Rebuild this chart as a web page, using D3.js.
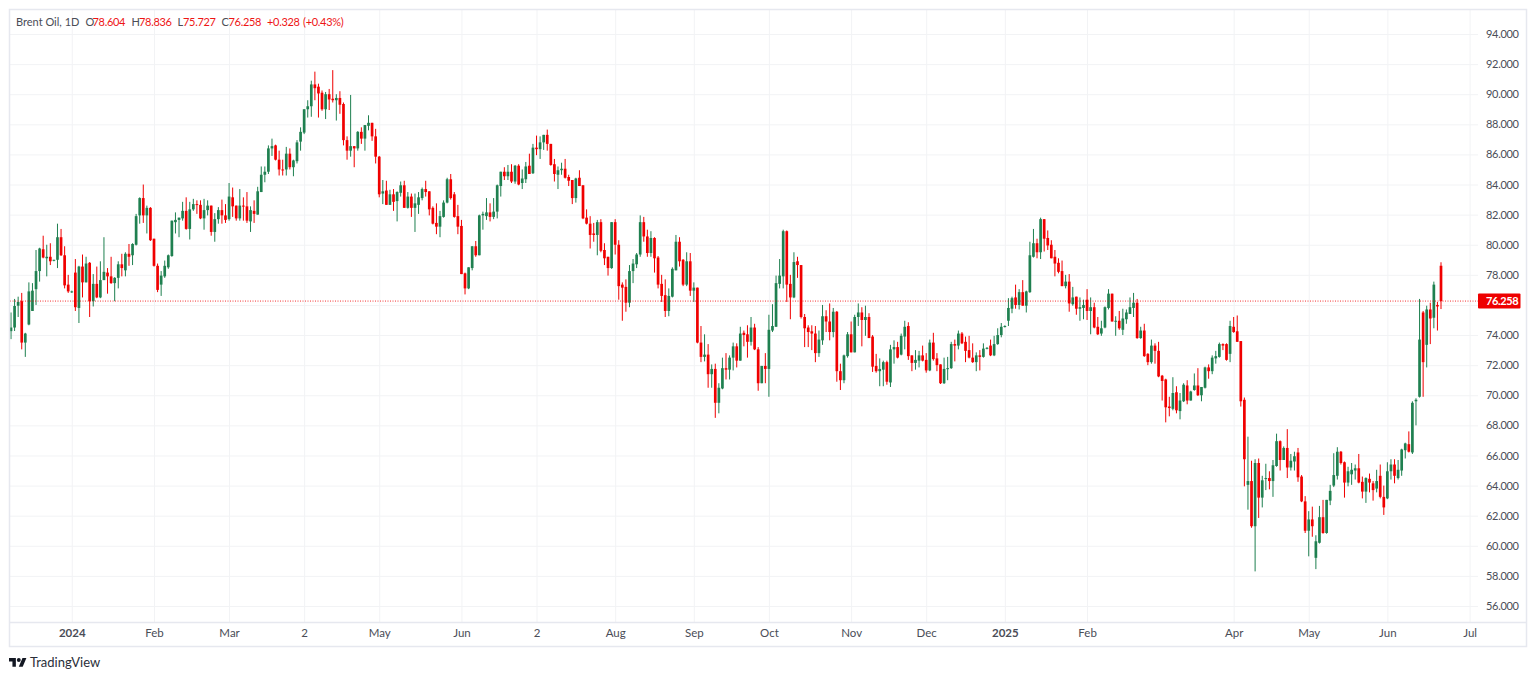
<!DOCTYPE html>
<html>
<head>
<meta charset="utf-8">
<title>Brent Oil, 1D</title>
<script src="https://cdn.jsdelivr.net/npm/d3@7/dist/d3.min.js"></script>
<style>
  html, body { margin: 0; padding: 0; background: #fff; overflow: hidden; }
  svg { display: block; }
  text { font-family: Lato, "Noto Sans", sans-serif; }
</style>
</head>
<body>
<svg id="chart" width="1536" height="679"></svg>
<script>
// one row = ten sessions
const opens = [
  74.26,74.5,75.95,76.25,73.5,74.7,75.6,77.05,78.25,79.7,
  79.1,79.2,78.95,79,80.5,79.3,77.35,76.85,78.15,75.8,
  78.55,77.5,78.8,76.25,77.4,76.5,77.65,78.15,77.9,77.45,
  77.8,78.7,78.3,79.4,79.3,80.0,81.95,83.1,81.95,82.45,
  80.4,78.6,77.35,77.9,78.5,79.25,81.5,81.65,81.75,82.25,
  81.05,82.35,82.7,82.65,81.75,82.3,82.6,80.85,81.7,82.3,
  81.95,81.7,83.15,82.6,81.75,82.6,82.55,81.55,82.25,82.0,
  83.5,84.65,84.85,86.4,86.6,85.65,85.0,85.0,86.05,85.15,
  85.55,86.85,87.45,89.0,89.2,90.65,90.5,90.1,89.0,90.0,
  89.7,89.6,89.75,89.35,86.95,86.25,86.55,86.4,87.5,87.05,
  87.9,88.1,87.2,85.85,83.4,83.6,82.65,83.35,82.9,83.45,
  83.95,82.45,83.2,82.45,82.65,83.1,83.7,83.55,82.45,81.45,
  81.2,81.85,82.8,84.35,83.35,81.9,81.25,78.1,77.1,78.45,
  79.9,79.3,81.95,81.9,82.15,81.85,82.2,83.9,84.85,84.55,
  84.85,84.2,85.25,84.1,84.35,85.25,84.75,86.45,86.35,86.8,
  87.3,86.7,85.35,84.65,84.95,85.05,84.5,84.3,83.1,84.45,
  83.95,81.8,81.4,80.75,80.65,81.5,79.65,79.2,78.45,81.5,
  80.0,77.35,77.2,76.15,78.25,78.7,79.35,81.5,80.55,79.45,
  80.45,79.15,77.4,76.65,75.6,76.55,78.3,80.2,79.0,77.35,
  78.9,76.95,77.15,73.5,72.55,72.7,71.4,71.75,69.5,70.45,
  71.8,71.7,72.5,73.25,72.3,74.15,74.05,73.55,74.5,73.05,
  70.8,71.95,71.75,74.3,74.55,77.4,77.9,80.9,77.4,76.5,
  78.9,78.65,75.2,74.5,74.25,74.1,72.8,73.65,75.25,74.9,
  74.2,75.55,71.6,71.0,72.6,74.05,72.85,75.2,75.5,75.0,
  75.2,73.9,71.95,71.6,71.7,72.2,70.85,73.05,73.2,72.7,
  73.9,74.6,72.65,72.15,72.3,72.65,72.35,71.65,73.5,72.45,
  72.05,70.8,71.75,71.8,73.4,73.3,74.1,73.55,73.0,72.5,
  72.2,72.65,72.55,73.1,73.3,72.65,73.4,74.0,74.55,74.95,
  75.75,76.5,76.0,76.85,75.95,76.85,79.2,80.1,79.5,81.7,
  80.45,80.0,79.2,78.8,78.25,77.25,77.55,76.05,76.55,75.75,
  75.8,76.35,75.6,75.85,74.55,74.1,74.5,75.8,76.75,74.9,
  74.95,74.35,75.05,75.4,75.8,76.15,73.8,74.3,72.75,72.2,
  73.3,72.95,71.3,71.05,69.25,69.1,70.2,68.95,69.6,70.65,
  69.65,70.35,70.65,70.0,70.5,71.85,71.6,72.45,72.55,73.4,
  73.4,72.75,74.55,74.25,73.6,69.7,64.05,64.3,61.3,65.5,
  63.2,64.45,64.5,64.3,65.3,66.95,65.7,66.5,65.2,65.6,
  66.2,64.6,62.95,61.0,61.75,59.2,60.2,61.9,60.85,63.0,
  64.0,64.65,66.25,65.55,64.2,64.75,65.0,65.15,64.25,63.6,
  64.45,64.15,63.8,64.65,63.25,63.15,64.95,65.4,64.5,65.0,
  66.35,66.75,66.2,69.6,69.9,75.5,73.35,75.7,75.15,76.0,
  78.604
];
const highs = [
  75.5,76.4,76.55,76.8,74.15,77.5,77.45,79.65,79.8,80.6,
  80.0,80.1,79.0,81.4,81.05,79.9,78.0,76.95,79.05,78.6,
  79.35,79.2,78.85,78.05,78.55,78.9,80.5,78.45,79.2,77.85,
  78.9,79.4,79.5,80.05,80.1,82.05,83.15,84.0,82.6,82.5,
  80.4,78.75,78.25,78.95,79.35,81.6,82.15,81.8,82.85,83.15,
  82.85,83.05,82.95,82.95,83.05,82.95,82.6,82.1,82.5,83.0,
  82.7,84.1,83.8,82.6,83.7,83.15,83.5,82.55,82.95,83.85,
  85.2,85.2,86.6,87.05,86.65,86.25,85.65,86.5,86.4,85.65,
  86.95,87.8,89.0,89.6,90.9,91.5,90.7,90.25,90.15,90.35,
  91.6,90.0,90.2,89.45,87.2,89.95,86.55,87.55,87.8,87.95,
  88.6,88.1,87.7,85.9,84.3,84.25,83.65,83.7,83.55,84.2,
  84.25,83.5,83.4,83.4,83.5,83.8,84.25,83.55,82.55,82.75,
  82.25,82.95,84.45,84.7,83.5,82.65,81.65,78.15,78.5,79.9,
  80.25,82.0,82.2,83.1,82.75,83.1,84.0,84.85,85.15,85.3,
  85.35,85.3,85.35,85.0,85.5,86.05,86.7,87.25,87.2,87.3,
  87.65,86.7,85.7,85.2,85.45,85.7,84.65,84.3,84.45,84.95,
  83.95,82.35,81.9,81.45,81.65,81.7,80.1,79.2,81.5,81.7,
  80.3,77.5,77.7,78.65,79.05,79.45,81.95,81.85,81.0,80.9,
  80.5,79.25,78.0,77.7,77.1,78.5,80.65,80.5,79.05,79.5,
  79.45,77.5,77.15,74.6,74.05,73.4,72.05,72.1,70.8,72.5,
  72.8,72.65,73.5,73.45,74.55,74.3,74.65,75.2,74.75,73.2,
  71.95,72.8,75.35,76.05,77.95,79.05,81.0,80.95,78.0,79.5,
  79.2,78.65,75.4,74.65,74.65,74.6,74.3,76.0,75.65,76.1,
  75.8,75.6,72.1,72.7,74.2,74.9,75.35,76.1,75.85,75.95,
  75.45,74.0,72.75,72.45,72.3,72.3,73.35,73.65,73.55,74.1,
  74.95,74.85,72.65,73.0,72.95,73.3,72.8,73.7,74.15,72.8,
  72.05,72.5,72.55,73.55,73.7,74.3,74.2,73.9,73.95,73.45,
  72.85,73.0,73.45,73.2,73.7,73.95,74.45,74.8,74.65,76.45,
  76.55,77.35,77.05,77.65,76.95,80.2,81.05,80.4,81.8,81.7,
  80.95,80.3,79.65,79.1,78.95,78.0,78.05,77.2,76.55,76.5,
  76.35,77.05,76.5,76.15,75.2,74.95,75.9,77.05,76.75,75.25,
  75.6,75.75,75.7,76.5,76.8,76.4,74.55,74.75,72.8,73.7,
  73.45,73.55,71.35,71.1,69.9,71.2,70.6,70.15,70.8,71.0,
  70.3,71.45,71.8,70.55,71.9,72.05,72.65,72.95,73.5,73.45,
  73.45,74.95,75.2,75.3,73.6,69.85,67.25,65.65,65.75,65.8,
  64.65,65.45,64.95,65.7,67.45,67.0,66.6,67.75,66.1,66.25,
  66.5,64.7,63.3,62.3,62.6,60.7,62.65,63.05,63.05,64.05,
  66.15,66.55,66.3,65.6,65.25,65.5,65.4,66.1,64.6,64.55,
  64.8,64.3,65.05,65.4,64.0,65.55,65.75,65.75,65.7,66.45,
  66.85,67.6,69.6,69.8,76.4,75.6,75.95,76.15,77.55,76.2,
  78.836
];
const lows = [
  73.73,74.27,75.2,73.05,72.55,74.65,75.6,76.0,77.55,79.1,
  77.9,78.65,78.9,78.45,79.25,77.1,76.8,76.8,75.6,74.8,
  76.5,77.5,75.2,75.9,76.45,76.45,77.65,76.75,77.4,76.25,
  77.1,77.9,77.9,78.6,78.65,79.95,81.4,81.45,80.75,80.25,
  78.55,76.85,76.6,77.8,78.4,79.2,80.75,80.5,81.6,81.0,
  80.35,82.25,82.05,81.7,81.0,81.95,80.6,80.2,81.4,81.4,
  81.45,81.6,81.85,81.6,81.6,81.6,81.45,80.85,81.45,82.0,
  83.5,84.15,84.7,85.9,85.6,84.6,84.6,84.6,85.0,84.55,
  85.4,86.25,87.35,88.45,88.5,89.6,88.45,88.9,88.35,88.95,
  89.45,88.25,88.7,86.6,85.65,85.85,85.15,86.25,86.7,86.25,
  87.6,86.9,85.4,83.15,82.7,82.65,82.65,82.25,81.55,83.2,
  82.45,82.4,81.85,80.85,82.05,82.95,83.2,81.95,81.35,80.7,
  80.5,81.8,82.75,83.0,81.8,80.7,78.05,76.7,77.05,78.3,
  79.2,79.3,81.0,81.65,81.55,81.7,81.75,83.2,84.3,84.3,
  84.1,84.05,83.95,83.7,84.1,84.7,84.7,85.95,85.7,86.3,
  86.25,85.25,84.2,83.7,84.65,84.4,83.9,82.7,82.8,83.9,
  81.7,81.35,79.75,80.2,79.3,79.5,78.65,77.95,78.4,79.35,
  76.35,74.95,75.55,75.85,77.45,78.45,79.2,80.2,79.2,79.2,
  78.15,77.1,76.2,75.2,75.25,76.5,78.3,78.55,77.25,77.25,
  76.6,76.2,73.45,72.2,72.25,70.5,70.5,68.5,68.8,70.4,
  71.05,71.05,71.65,71.85,72.3,73.25,72.5,73.3,73.0,70.3,
  70.8,70.8,69.9,74.2,74.55,77.1,77.1,76.2,75.05,76.45,
  77.8,75.1,73.2,73.2,73.0,72.2,72.55,73.35,74.2,73.65,
  73.85,70.9,70.35,70.8,72.5,72.85,72.85,74.6,73.25,73.95,
  73.8,71.55,71.5,70.6,70.6,70.7,70.55,72.1,72.45,72.65,
  73.05,72.35,71.6,71.7,71.85,72.25,71.5,71.6,72.3,71.6,
  70.75,70.75,71.0,71.75,72.25,73.05,73.4,72.2,72.45,72.15,
  71.6,71.65,72.5,73.05,72.6,72.6,73.35,73.85,74.5,74.6,
  75.45,75.75,75.7,75.95,75.5,76.8,79.15,79.1,79.05,79.55,
  79.65,79.1,77.9,78.1,77.25,77.1,75.55,75.95,75.35,74.95,
  75.05,75.0,74.05,74.45,74.0,73.95,74.45,75.7,74.9,73.95,
  74.35,74.0,74.75,75.4,75.2,73.75,73.75,72.55,72.0,72.1,
  72.1,71.2,69.65,68.2,68.6,69.0,68.8,68.4,69.55,69.4,
  69.65,70.3,69.95,69.6,70.45,71.1,71.4,72.1,72.5,73.0,
  72.3,72.2,74.15,73.55,69.25,63.95,62.4,61.2,58.3,61.85,
  62.55,63.7,63.75,63.25,65.25,65.0,65.7,64.5,65.0,65.0,
  64.25,62.9,60.85,59.3,60.6,58.45,60.15,60.8,60.8,62.7,
  63.9,64.4,65.4,63.2,63.95,64.05,64.4,64.15,63.15,62.85,
  63.55,63.0,63.55,63.15,62.05,63.1,64.4,64.15,64.4,64.65,
  65.8,66.2,66.1,68.0,69.85,69.9,71.85,73.4,74.45,74.3,
  75.727
];
const closes = [
  74.5,75.93,76.2,73.5,74.1,76.9,76.95,78.25,79.75,79.15,
  79.2,78.9,79.0,80.5,79.3,77.3,76.9,76.9,75.85,78.55,
  77.5,78.75,76.25,77.4,76.5,77.65,78.2,77.9,77.45,77.8,
  78.7,78.45,79.4,79.2,80.05,81.9,83.1,81.95,82.45,80.3,
  78.6,77.0,77.95,78.6,79.3,81.6,81.65,81.8,82.25,81.05,
  82.35,82.7,82.65,81.75,82.3,82.6,80.85,81.7,82.3,81.95,
  81.65,83.2,82.55,81.75,82.6,82.55,81.6,82.3,82.05,83.55,
  84.65,84.85,86.4,86.55,85.65,85.0,84.95,86.05,85.15,85.6,
  86.8,87.5,89.0,89.2,90.65,90.4,90.05,89.0,90.0,89.65,
  89.6,89.75,89.3,86.95,86.25,86.55,86.4,87.5,87.05,87.95,
  88.1,87.2,85.85,83.35,83.55,82.65,83.35,82.85,83.5,83.95,
  82.45,83.2,82.45,82.75,83.15,83.7,83.5,82.35,81.4,81.2,
  81.9,82.8,84.35,83.1,81.85,81.2,78.05,77.1,78.5,79.9,
  79.3,81.95,82.05,82.15,81.85,82.2,83.95,84.85,84.55,84.85,
  84.2,85.25,84.0,84.4,85.2,84.7,86.45,86.35,86.8,87.3,
  86.7,85.3,84.7,84.95,85.05,84.45,84.25,83.1,84.4,83.9,
  81.75,81.4,80.65,80.65,81.5,79.6,79.1,78.45,81.5,80.0,
  77.25,77.15,76.15,78.25,78.75,79.35,81.5,80.55,79.45,80.45,
  79.1,77.35,76.6,75.6,76.6,78.4,80.2,78.9,77.35,78.9,
  76.95,77.15,73.5,72.55,72.7,71.4,71.75,69.5,70.5,71.8,
  71.7,72.5,73.25,72.3,74.1,74.0,73.55,74.5,73.05,70.8,
  71.95,71.75,74.35,74.6,77.45,77.95,80.9,77.35,76.5,78.85,
  78.65,75.2,74.45,74.2,74.1,72.8,73.7,75.25,74.9,74.2,
  75.55,71.6,71.0,72.65,74.05,72.85,75.2,75.5,75.0,75.2,
  73.8,71.9,71.6,71.75,72.2,70.9,73.05,73.2,72.5,73.95,
  74.55,72.6,72.15,72.35,72.65,72.3,71.65,73.5,72.4,72.0,
  70.8,71.75,71.8,73.4,73.3,74.1,73.45,72.95,72.5,72.2,
  72.65,72.55,73.1,73.15,72.65,73.4,74.0,74.55,74.6,75.8,
  76.45,76.0,76.85,75.95,76.9,79.3,80.1,79.5,81.7,80.4,
  79.95,79.1,78.75,78.2,77.25,77.55,76.1,76.5,75.75,75.85,
  76.0,75.6,75.85,74.5,74.05,74.45,75.85,76.75,74.9,74.95,
  74.45,75.1,75.5,75.85,76.15,73.8,74.3,72.6,72.2,73.3,
  72.95,71.25,70.95,69.2,69.15,70.15,69.0,69.65,70.7,69.65,
  70.25,70.65,70.0,70.55,71.85,71.6,72.5,72.6,73.4,73.3,
  72.35,74.6,74.2,73.55,69.6,65.75,64.3,61.3,65.5,63.2,
  64.35,64.5,64.3,65.35,66.95,65.7,66.5,65.2,65.65,65.95,
  64.55,62.95,61.0,61.75,61.3,60.3,61.9,60.85,63.05,63.65,
  64.7,66.25,65.5,64.2,64.95,65.05,65.15,64.2,63.6,64.5,
  64.2,63.7,64.3,63.25,62.55,64.95,65.4,64.65,65.05,66.4,
  66.8,66.25,69.5,69.7,73.7,72.2,75.7,75.1,77.35,75.9,
  76.258
];

// session index of each month start, and the text the time axis shows there
const monthBars = [17, 40, 61, 82, 103, 126, 147, 169, 191, 212, 235, 256, 278, 301, 342, 363, 385, 408];
const monthLabels = ['2024', 'Feb', 'Mar', '2', 'May', 'Jun', '2', 'Aug', 'Sep', 'Oct', 'Nov', 'Dec', '2025', 'Feb', 'Apr', 'May', 'Jun', 'Jul'];
const priceTicks = d3.range(56, 95, 2);

const lastPrice = 76.258;
const legendTexts = ['Brent Oil, 1D', 'O', '78.604', 'H', '78.836', 'L', '75.727', 'C', '76.258', '+0.328', '(+0.43%)'];
const legendStarts = [16, 85.5, 92.5, 131.5, 139, 177.5, 183, 221.5, 228.5, 267, 303];
const legendIsValue = [false, false, true, false, true, false, true, false, true, true, true];

const red = '#f00000';
const green = '#1f8050';
const gridColor = '#f2f3f5';
const borderColor = '#e6e8ef';
const labelColor = '#4a4d57';

const paneRight = 1478;
const paneBottom = 622.5;

const svg = d3.select('#chart');

const x = d3.scaleLinear().domain([0, opens.length - 1]).range([11, 1441]);
const y = d3.scaleLinear().domain([56, 94]).range([606, 34]);

// grid, built from the two axes
const xGrid = svg.append('g')
  .attr('transform', 'translate(0,' + paneBottom + ')')
  .call(d3.axisBottom(x).tickValues(monthBars).tickSize(-(paneBottom - 10)).tickFormat(''));
xGrid.select('.domain').remove();
xGrid.selectAll('line').attr('stroke', gridColor);

const yGrid = svg.append('g')
  .attr('transform', 'translate(' + paneRight + ',0)')
  .call(d3.axisLeft(y).tickValues(priceTicks).tickSize(paneRight - 10).tickFormat(''));
yGrid.select('.domain').remove();
yGrid.selectAll('line').attr('stroke', gridColor);

// candles
const candles = svg.append('g').selectAll('g.candle')
  .data(opens)
  .enter().append('g')
  .attr('class', 'candle')
  .attr('fill', (d, i) => closes[i] >= d ? green : red);

candles.append('rect')
  .attr('x', (d, i) => x(i) - 0.5)
  .attr('width', 1)
  .attr('y', (d, i) => y(highs[i]))
  .attr('height', (d, i) => y(lows[i]) - y(highs[i]));

candles.append('rect')
  .attr('x', (d, i) => x(i) - 1.35)
  .attr('width', 2.7)
  .attr('y', (d, i) => y(Math.max(d, closes[i])))
  .attr('height', (d, i) => Math.max(1, Math.abs(y(d) - y(closes[i]))));

// last price line
svg.append('line')
  .attr('x1', 10).attr('x2', paneRight)
  .attr('y1', y(lastPrice)).attr('y2', y(lastPrice))
  .attr('stroke', '#f00000')
  .attr('stroke-opacity', 0.8)
  .attr('stroke-dasharray', '1 1.5');

// frame
svg.append('rect')
  .attr('x', 9.5).attr('y', 9.5)
  .attr('width', 1517).attr('height', 637)
  .attr('fill', 'none')
  .attr('stroke', borderColor)
  .attr('stroke-width', 1.5);
svg.append('line')
  .attr('x1', 10).attr('x2', 1527)
  .attr('y1', paneBottom).attr('y2', paneBottom)
  .attr('stroke', borderColor)
  .attr('stroke-width', 1.5);

// axes; the 76 label sits under the last price tag, so it is left out
const priceAxis = svg.append('g')
  .attr('transform', 'translate(' + paneRight + ',0)')
  .call(d3.axisRight(y).tickValues(priceTicks.filter(d => d !== 76)).tickSize(0).tickPadding(8).tickFormat(d3.format('.3f')));
priceAxis.select('.domain').remove();
priceAxis.selectAll('text')
  .attr('fill', labelColor)
  .style('font-size', '11px')
  .style('letter-spacing', '-0.3px');

const timeAxis = svg.append('g')
  .attr('transform', 'translate(0,' + paneBottom + ')')
  .call(d3.axisBottom(x).tickValues(monthBars).tickSize(0).tickPadding(6).tickFormat((d, i) => monthLabels[i]));
timeAxis.select('.domain').remove();
timeAxis.selectAll('text')
  .attr('fill', labelColor)
  .style('font-size', '11.5px')
  .style('font-weight', (d, i) => monthLabels[i].length === 4 ? 700 : 400);

// last price tag
svg.append('rect')
  .attr('x', paneRight).attr('y', y(lastPrice) - 7.5)
  .attr('width', 42.5).attr('height', 15)
  .attr('rx', 1)
  .attr('fill', '#ee0000');
svg.append('text')
  .attr('x', paneRight + 8).attr('y', y(lastPrice))
  .attr('dy', '0.35em')
  .attr('fill', '#fff')
  .style('font-size', '11px')
  .style('letter-spacing', '-0.4px')
  .style('font-weight', 700)
  .text(d3.format('.3f')(lastPrice));

// legend
svg.append('g').selectAll('text')
  .data(legendTexts)
  .enter().append('text')
  .attr('x', (d, i) => legendStarts[i])
  .attr('y', 26)
  .attr('fill', (d, i) => legendIsValue[i] ? '#ee1515' : labelColor)
  .style('font-size', '11px')
  .style('letter-spacing', (d, i) => legendIsValue[i] ? '-0.3px' : '0')
  .text(d => d);

// logo
const logo = svg.append('g')
  .attr('transform', 'translate(9,656) scale(0.49)')
  .attr('fill', '#131722');
logo.append('path').attr('d', 'M14 22H7V11H0V4h14v18zM28 22h-8l7.5-18h8L28 22z');
logo.append('circle').attr('cx', 20).attr('cy', 8).attr('r', 4);
svg.append('text')
  .attr('x', 30).attr('y', 667)
  .attr('fill', '#2a2e39')
  .style('font-size', '13px')
  .text('TradingView');
</script>
</body>
</html>
